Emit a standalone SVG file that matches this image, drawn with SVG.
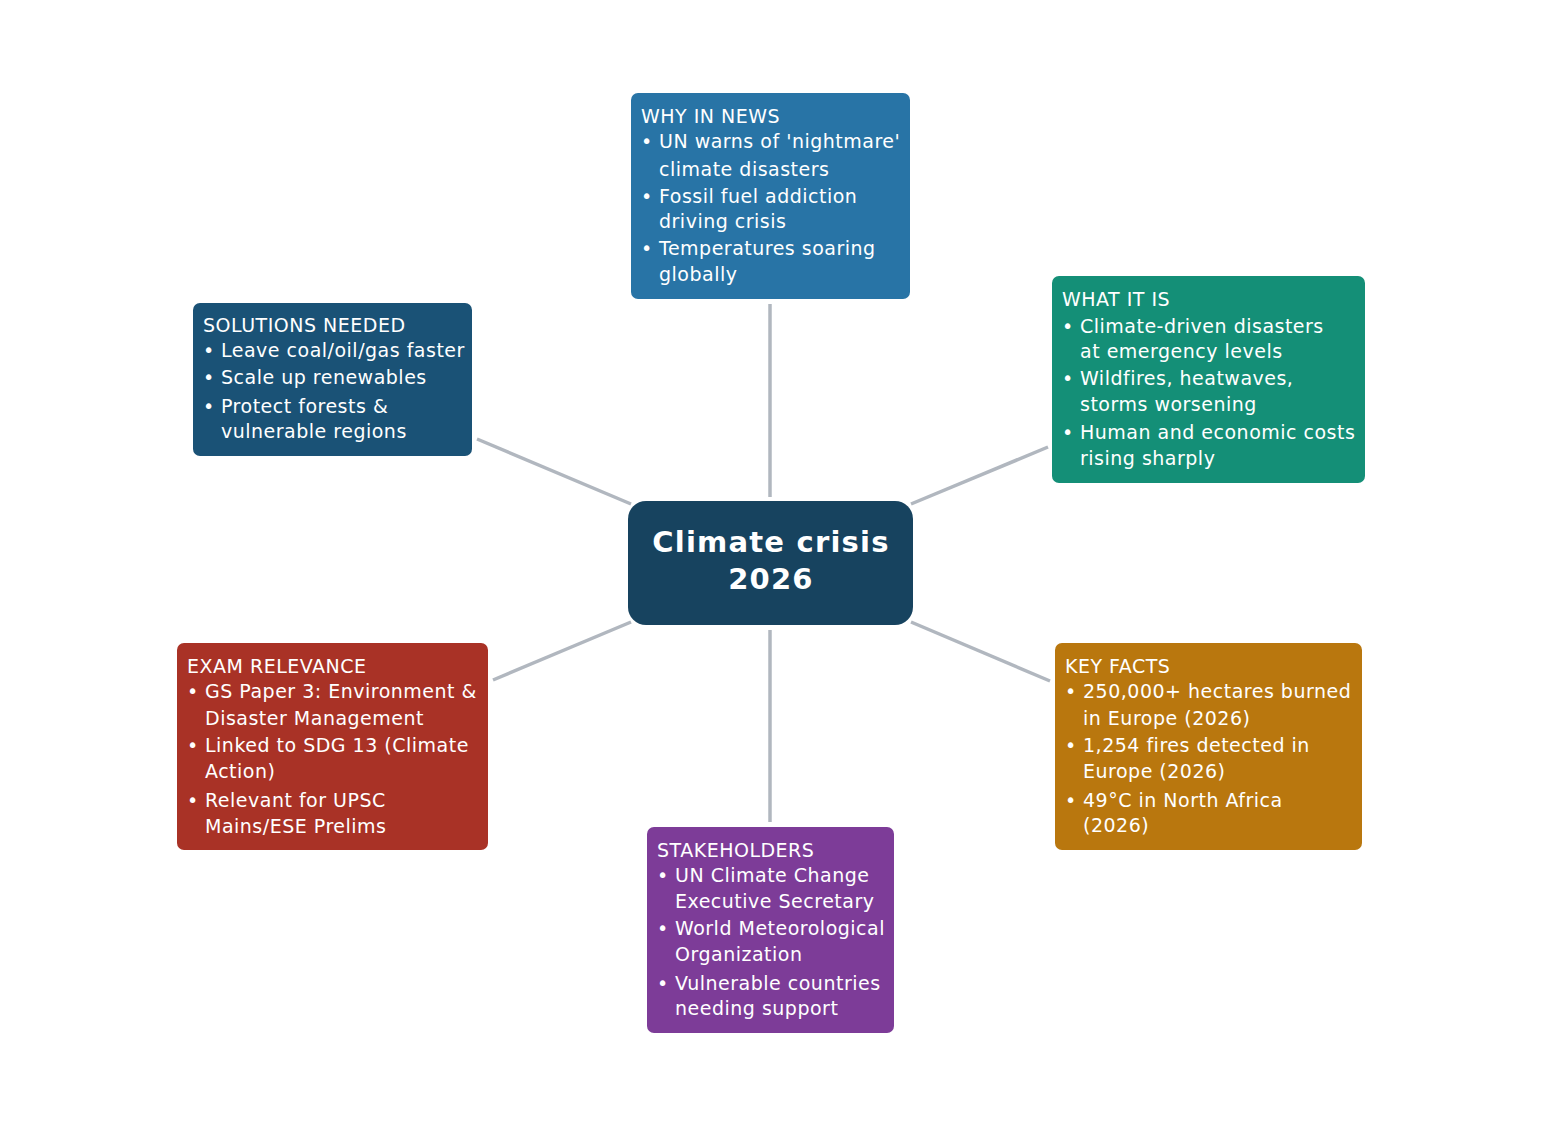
<svg xmlns="http://www.w3.org/2000/svg" width="1541" height="1127" viewBox="0 0 1541 1127">
<style>
.t{font-family:"DejaVu Sans","Liberation Sans",sans-serif;font-size:19px;letter-spacing:0.5px;fill:#ffffff}
.c{font-family:"DejaVu Sans","Liberation Sans",sans-serif;font-size:29px;letter-spacing:1.2px;font-weight:bold;fill:#ffffff;text-anchor:middle}
.e{stroke:#b1b7bf;stroke-width:3.5;fill:none}
</style>
<rect width="1541" height="1127" fill="#ffffff"/>
<g id="connectors">
<line class="e" x1="770" y1="497" x2="770" y2="304"/>
<line class="e" x1="911" y1="504" x2="1048" y2="447"/>
<line class="e" x1="911" y1="622" x2="1050" y2="681"/>
<line class="e" x1="770" y1="630" x2="770" y2="822"/>
<line class="e" x1="631" y1="622" x2="493" y2="680"/>
<line class="e" x1="631" y1="504" x2="477" y2="439"/>
</g>
<g id="center">
<rect x="628" y="501" width="285" height="124" rx="18" fill="#17435f"/>
<text class="c" x="771" y="552">Climate crisis</text>
<text class="c" x="771" y="589">2026</text>
</g>
<g id="why">
<rect x="631" y="93" width="279" height="206" rx="7" fill="#2874a6"/>
<text class="t" x="641" y="123">WHY IN NEWS</text>
<text class="t" x="641" y="148">•</text><text class="t" x="659" y="148">UN warns of 'nightmare'</text>
<text class="t" x="659" y="176">climate disasters</text>
<text class="t" x="641" y="203">•</text><text class="t" x="659" y="203">Fossil fuel addiction</text>
<text class="t" x="659" y="228">driving crisis</text>
<text class="t" x="641" y="255">•</text><text class="t" x="659" y="255">Temperatures soaring</text>
<text class="t" x="659" y="281">globally</text>
</g>
<g id="what">
<rect x="1052" y="276" width="313" height="207" rx="7" fill="#148f77"/>
<text class="t" x="1062" y="306">WHAT IT IS</text>
<text class="t" x="1062" y="333">•</text><text class="t" x="1080" y="333">Climate-driven disasters</text>
<text class="t" x="1080" y="358">at emergency levels</text>
<text class="t" x="1062" y="385">•</text><text class="t" x="1080" y="385">Wildfires, heatwaves,</text>
<text class="t" x="1080" y="411">storms worsening</text>
<text class="t" x="1062" y="439">•</text><text class="t" x="1080" y="439">Human and economic costs</text>
<text class="t" x="1080" y="465">rising sharply</text>
</g>
<g id="solutions">
<rect x="193" y="303" width="279" height="153" rx="7" fill="#1a5276"/>
<text class="t" x="203" y="332">SOLUTIONS NEEDED</text>
<text class="t" x="203" y="357">•</text><text class="t" x="221" y="357">Leave coal/oil/gas faster</text>
<text class="t" x="203" y="384">•</text><text class="t" x="221" y="384">Scale up renewables</text>
<text class="t" x="203" y="413">•</text><text class="t" x="221" y="413">Protect forests &amp;</text>
<text class="t" x="221" y="438">vulnerable regions</text>
</g>
<g id="exam">
<rect x="177" y="643" width="311" height="207" rx="7" fill="#a93226"/>
<text class="t" x="187" y="673">EXAM RELEVANCE</text>
<text class="t" x="187" y="698">•</text><text class="t" x="205" y="698">GS Paper 3: Environment &amp;</text>
<text class="t" x="205" y="725">Disaster Management</text>
<text class="t" x="187" y="752">•</text><text class="t" x="205" y="752">Linked to SDG 13 (Climate</text>
<text class="t" x="205" y="778">Action)</text>
<text class="t" x="187" y="807">•</text><text class="t" x="205" y="807">Relevant for UPSC</text>
<text class="t" x="205" y="833">Mains/ESE Prelims</text>
</g>
<g id="keyfacts">
<rect x="1055" y="643" width="307" height="207" rx="7" fill="#b9770e"/>
<text class="t" x="1065" y="673">KEY FACTS</text>
<text class="t" x="1065" y="698">•</text><text class="t" x="1083" y="698">250,000+ hectares burned</text>
<text class="t" x="1083" y="725">in Europe (2026)</text>
<text class="t" x="1065" y="752">•</text><text class="t" x="1083" y="752">1,254 fires detected in</text>
<text class="t" x="1083" y="778">Europe (2026)</text>
<text class="t" x="1065" y="807">•</text><text class="t" x="1083" y="807">49°C in North Africa</text>
<text class="t" x="1083" y="832">(2026)</text>
</g>
<g id="stakeholders">
<rect x="647" y="827" width="247" height="206" rx="7" fill="#7d3c98"/>
<text class="t" x="657" y="857">STAKEHOLDERS</text>
<text class="t" x="657" y="882">•</text><text class="t" x="675" y="882">UN Climate Change</text>
<text class="t" x="675" y="908">Executive Secretary</text>
<text class="t" x="657" y="935">•</text><text class="t" x="675" y="935">World Meteorological</text>
<text class="t" x="675" y="961">Organization</text>
<text class="t" x="657" y="990">•</text><text class="t" x="675" y="990">Vulnerable countries</text>
<text class="t" x="675" y="1015">needing support</text>
</g>
</svg>
